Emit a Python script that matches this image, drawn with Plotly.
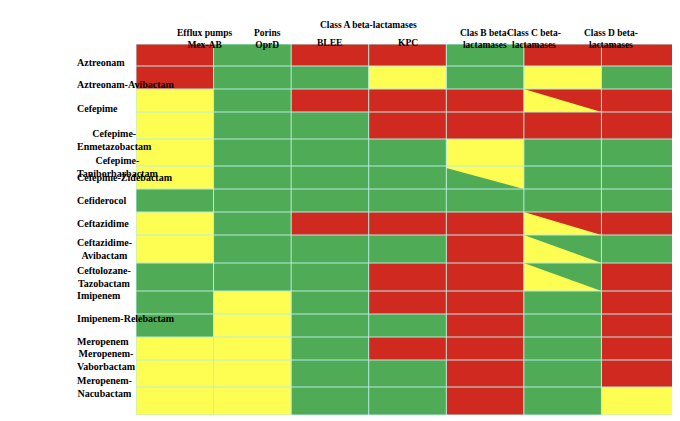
import plotly.graph_objects as go

drugs = ["Aztreonam", "Aztreonam-Avibactam", "Cefepime", "Cefepime-<br>Enmetazobactam",
         "Cefepime-<br>Taniborbarbactam", "Cefepime-Zidebactam", "Cefiderocol", "Ceftazidime",
         "Ceftazidime-<br>Avibactam", "Ceftolozane-<br>Tazobactam", "Imipenem", "Imipenem-Relebactam",
         "Meropenem", "Meropenem-<br>Vaborbactam", "Meropenem-<br>Nacubactam"]
row_heights = [22, 23, 23, 27, 27, 23, 23, 23, 28, 28, 23, 23, 23, 27, 28]

# R = resistant, G = active, Y = variable; "A/B" = triangle A (lower-left) over B
cells = [
    ["R", "G", "R", "R", "G", "R", "R"],
    ["R", "G", "G", "Y", "G", "Y", "G"],
    ["Y", "G", "R", "R", "R", "Y/R", "R"],
    ["Y", "G", "G", "R", "R", "R", "R"],
    ["Y", "G", "G", "G", "Y", "G", "G"],
    ["Y", "G", "G", "G", "G/Y", "G", "G"],
    ["G", "G", "G", "G", "G", "G", "G"],
    ["Y", "G", "R", "R", "R", "Y/R", "R"],
    ["Y", "G", "G", "G", "R", "Y/G", "G"],
    ["G", "G", "G", "R", "R", "Y/G", "R"],
    ["G", "Y", "G", "R", "R", "G", "R"],
    ["G", "Y", "G", "G", "R", "G", "R"],
    ["Y", "Y", "G", "R", "R", "G", "R"],
    ["Y", "Y", "G", "G", "R", "G", "R"],
    ["Y", "Y", "G", "G", "R", "G", "Y"],
]
headers = ["Efflux pumps<br>Mex-AB", "Porins<br>OprD", "BLEE", "KPC",
           "Clas B beta-<br>lactamases", "Class C beta-<br>lactamases", "Class D beta-<br>lactamases"]

colors = {"R": "#d0291f", "G": "#4fab55", "Y": "#fdfd52"}
font = "Liberation Serif"

tops = [0]
for h in row_heights:
    tops.append(tops[-1] + h)
total = tops[-1]

rects = {"R": ([], []), "G": ([], []), "Y": ([], [])}
tris = {"R": ([], []), "G": ([], []), "Y": ([], [])}


def add_poly(store, c, xs, ys):
    store[c][0].extend(xs + [xs[0], None])
    store[c][1].extend(ys + [ys[0], None])


for r, row in enumerate(cells):
    y0, y1 = tops[r], tops[r + 1]
    for c, v in enumerate(row):
        x0, x1 = c, c + 1
        if "/" in v:
            a, b = v.split("/")
            add_poly(rects, b, [x0, x1, x1, x0], [y0, y0, y1, y1])
            top = y0 + 2 if (r, c) == (5, 4) else y0
            add_poly(tris, a, [x0, x0, x1], [top, y1, y1])
        else:
            add_poly(rects, v, [x0, x1, x1, x0], [y0, y0, y1, y1])

fig = go.Figure()
for store in (rects, tris):
    for c, (xs, ys) in store.items():
        if xs:
            fig.add_trace(go.Scatter(x=xs, y=ys, mode="lines", fill="toself", fillcolor=colors[c],
                                     line=dict(width=0), hoverinfo="skip", showlegend=False))

grid = dict(color="#b9ecdf", width=1)
for c in range(8):
    fig.add_shape(type="line", x0=c, x1=c, y0=0, y1=total, line=grid)
for t in tops:
    fig.add_shape(type="line", x0=0, x1=7, y0=t, y1=t, line=grid)

L, T, W, H = 128, 36, 543, 371


def px(x):
    return (x - L) / W


def py(y):
    return 1 - (y - T) / H


for r, d in enumerate(drugs):
    yc = T + (tops[r] + tops[r + 1]) / 2 * H / total
    fig.add_annotation(xref="paper", yref="paper", x=px(67), y=py(yc), text="<b>" + d + "</b>",
                       showarrow=False, font=dict(family=font, size=10, color="black"),
                       align="center")

for c, h in enumerate(headers):
    yy = 28 if c in (2, 3) else 18
    fig.add_annotation(xref="paper", yref="paper", x=(c + 0.5) / 7, y=py(yy),
                       text="<b>" + h + "</b>", showarrow=False,
                       font=dict(family=font, size=9.5, color="black"), align="center")
fig.add_annotation(xref="paper", yref="paper", x=3 / 7, y=py(10),
                   text="<b>Class A beta-lactamases</b>", showarrow=False,
                   font=dict(family=font, size=9.5, color="black"))

fig.update_layout(
    width=680, height=421,
    margin=dict(l=L, r=680 - L - W, t=T, b=421 - T - H),
    plot_bgcolor="white", paper_bgcolor="white",
    xaxis=dict(range=[0, 7], visible=False),
    yaxis=dict(range=[total, 0], visible=False),
)
fig.write_html("out.html")
